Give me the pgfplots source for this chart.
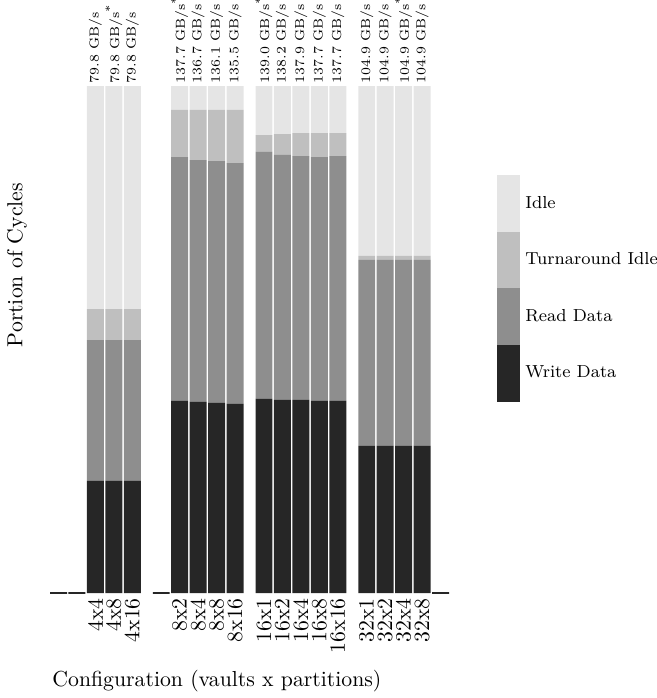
\documentclass[border=0pt]{standalone}
\usepackage{pgfplots}
\usepackage{pgfplotstable}
\pgfplotsset{compat=1.18}

\definecolor{cWrite}{HTML}{262626}
\definecolor{cRead}{HTML}{8E8E8E}
\definecolor{cTurn}{HTML}{BFBFBF}
\definecolor{cIdle}{HTML}{E5E5E5}

% Share of cycles per configuration; groups of five slots, x = slot position
\pgfplotstableread{
x     write read  turn  idle
2     0.221 0.278 0.061 0.440
3     0.221 0.278 0.061 0.440
4     0.221 0.278 0.061 0.440
6.57  0.379 0.481 0.093 0.047
7.57  0.377 0.477 0.099 0.047
8.57  0.375 0.477 0.101 0.047
9.57  0.373 0.475 0.105 0.047
11.14 0.383 0.487 0.033 0.097
12.14 0.381 0.483 0.041 0.095
13.14 0.381 0.481 0.045 0.093
14.14 0.379 0.481 0.047 0.093
15.14 0.379 0.483 0.045 0.093
16.71 0.290 0.367 0.008 0.335
17.71 0.290 0.367 0.008 0.335
18.71 0.290 0.367 0.008 0.335
19.71 0.290 0.367 0.008 0.335
}\cycles

% Configurations that were not run (4x1, 4x2, 8x1, 32x16)
\pgfplotstableread{
x     zero
0     0
1     0
5.57  0
20.71 0
}\unused

\newcommand\best{\textsuperscript{\kern-0.1em*}}

\begin{document}
\begin{tikzpicture}
\pgfplotsset{
  frame/.style={
    at={(0,0)}, anchor=south west, scale only axis,
    width=184.2pt, height=233.2pt,
    xmin=-0.5, xmax=21.21, ymin=0, ymax=1,
    axis line style={draw=none}, major tick length=0pt,
    ytick=\empty, clip=false,
  },
  seg/.style={fill=#1, draw=none,
    legend image code/.code={\fill[#1] (0pt,-13pt) rectangle (10.58pt,13pt);}},
}
\begin{axis}[frame, ybar stacked, bar width=0.92,
  xtick=data,
  xticklabels={4x4,4x8,4x16,8x2,8x4,8x8,8x16,16x1,16x2,16x4,16x8,16x16,32x1,32x2,32x4,32x8},
  xticklabel style={rotate=90, anchor=east, inner sep=2.2pt},
  xlabel={Configuration (vaults x partitions)},
  ylabel={Portion of Cycles},
  every axis x label/.style={at={(axis description cs:0.4187,-0.1736)}, anchor=center},
  every axis y label/.style={at={(axis description cs:-0.0807,0.647)}, rotate=90, anchor=center},
  legend style={at={(axis description cs:1.1179,0.8245)}, anchor=north west,
    draw=none, fill=none, inner sep=0pt, row sep=0pt, column sep=0pt,
    font=\footnotesize, nodes={inner xsep=2.3pt, inner ysep=0pt}},
  legend cell align=left, reverse legend,
]
\addplot[seg=cWrite] table[x=x, y=write]{\cycles};
\addplot[seg=cRead]  table[x=x, y=read]{\cycles};
\addplot[seg=cTurn]  table[x=x, y=turn]{\cycles};
\addplot[seg=cIdle]  table[x=x, y=idle]{\cycles};
\legend{Write Data, Read Data, Turnaround Idle, Idle}
\end{axis}

\begin{axis}[frame,
  xtick={2,3,4,6.57,7.57,8.57,9.57,11.14,12.14,13.14,14.14,15.14,16.71,17.71,18.71,19.71},
  xticklabels={79.8 GB/s, 79.8 GB/s\best, 79.8 GB/s,
    137.7 GB/s\best, 136.7 GB/s, 136.1 GB/s, 135.5 GB/s,
    139.0 GB/s\best, 138.2 GB/s, 137.9 GB/s, 137.7 GB/s, 137.7 GB/s,
    104.9 GB/s, 104.9 GB/s, 104.9 GB/s\best, 104.9 GB/s},
  xticklabel pos=right,
  xticklabel style={rotate=90, anchor=west, inner sep=1pt, font=\fontsize{6}{7}\selectfont},
]
\addplot[ybar, bar width=0.92, draw=cWrite, fill=none, line width=0.5pt]
  table[x=x, y=zero]{\unused};
\end{axis}

\pgfresetboundingbox
\path[use as bounding box] (-22.68pt,-48.3pt) rectangle (279.54pt,272.78pt);
\end{tikzpicture}
\end{document}
